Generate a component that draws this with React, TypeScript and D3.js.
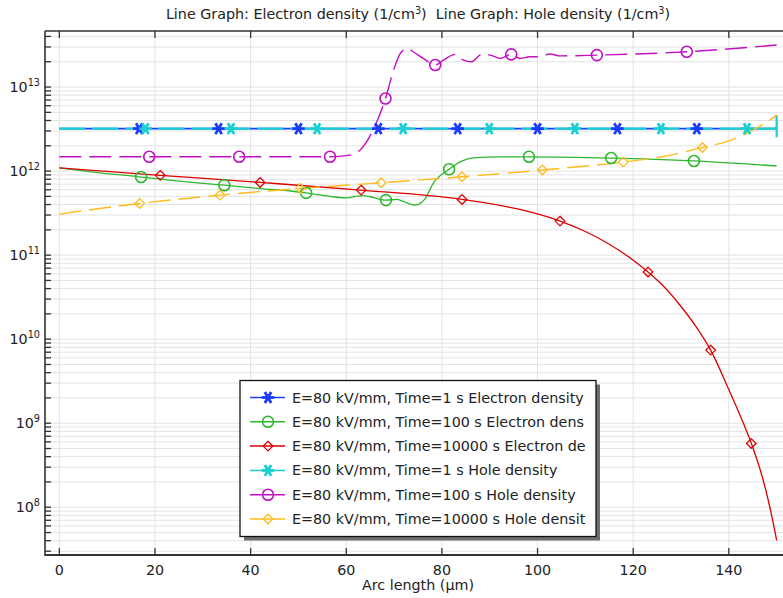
import React from "react";
import * as d3 from "d3";

type P = [number, number];

const xTicks = [0, 20, 40, 60, 80, 100, 120, 140];
const yDecades = [8, 9, 10, 11, 12, 13];

const blueLine: P[] = [[0, 3.2e12], [150, 3.2e12]];
const blueMarkers: P[] = [[16.7, 3.2e12], [33.3, 3.2e12], [50, 3.2e12], [66.7, 3.2e12], [83.3, 3.2e12], [100, 3.2e12], [116.7, 3.2e12], [133.3, 3.2e12]];

const greenLine: P[] = [[0, 1.09e12], [8, 9.6e11], [17.1, 8.5e11], [25, 7.6e11], [34.5, 6.8e11], [42, 6.2e11], [48.3, 5.8e11], [51.6, 5.5e11], [54.5, 5.2e11], [57.3, 4.95e11], [60.2, 4.8e11], [62.3, 5.05e11], [63.5, 5.1e11], [65, 4.95e11], [68.3, 4.52e11], [70.6, 4.6e11], [71.9, 4.35e11], [74.4, 3.95e11], [76.5, 4.7e11], [78.2, 7.2e11], [81.5, 1.05e12], [83.8, 1.29e12], [86.5, 1.44e12], [92.2, 1.48e12], [98.2, 1.48e12], [115.4, 1.43e12], [132.7, 1.32e12], [150, 1.15e12]];
const greenMarkers: P[] = [[17.1, 8.5e11], [34.5, 6.8e11], [51.6, 5.5e11], [68.3, 4.52e11], [81.5, 1.05e12], [98.2, 1.48e12], [115.4, 1.43e12], [132.7, 1.32e12]];

const redLine: P[] = [[0, 1.09e12], [21.1, 8.9e11], [42, 7.33e11], [63.1, 5.94e11], [84.2, 4.6e11], [94, 3.72e11], [100, 3.09e11], [105, 2.51e11], [110, 1.91e11], [115, 1.35e11], [120, 8.71e10], [123.1, 6.31e10], [126, 4.47e10], [130, 2.45e10], [133, 1.45e10], [136.2, 7.41e9], [140, 2.51e9], [142, 1.38e9], [144.7, 5.75e8], [147, 2.29e8], [148.5, 1.05e8], [150, 4.05e7]];
const redMarkers: P[] = [[21.1, 8.9e11], [42, 7.33e11], [63.1, 5.94e11], [84.2, 4.6e11], [104.7, 2.54e11], [123.1, 6.31e10], [136.2, 7.41e9], [144.7, 5.75e8]];

const cyanLine: P[] = [[0, 3.2e12], [149.9, 3.2e12], [150, 4.6e12], [150, 2.5e12]];
const cyanMarkers: P[] = [[18, 3.2e12], [35.9, 3.2e12], [53.9, 3.2e12], [71.9, 3.2e12], [89.9, 3.2e12], [107.8, 3.2e12], [125.8, 3.2e12], [143.8, 3.2e12]];

const magentaLine: P[] = [[0, 1.48e12], [18.8, 1.48e12], [37.6, 1.48e12], [56.6, 1.48e12], [60.8, 1.55e12], [62.9, 1.78e12], [65.6, 3.08e12], [68.2, 7.3e12], [69.9, 1.59e13], [71.3, 2.51e13], [72.7, 2.88e13], [74, 2.63e13], [76.1, 2.19e13], [78.6, 1.83e13], [80.3, 2.09e13], [82.8, 2.45e13], [84.5, 2.09e13], [86.2, 2.0e13], [88.3, 2.45e13], [90.1, 2.4e13], [92.2, 2.19e13], [94.5, 2.45e13], [96.3, 2.19e13], [98.4, 2.29e13], [100.5, 2.29e13], [102.6, 2.47e13], [104.7, 2.35e13], [112.4, 2.4e13], [131.2, 2.63e13], [150, 3.16e13]];
const magentaMarkers: P[] = [[18.8, 1.48e12], [37.6, 1.48e12], [56.6, 1.48e12], [68.2, 7.3e12], [78.6, 1.83e13], [94.5, 2.45e13], [112.4, 2.4e13], [131.2, 2.63e13]];

const yellowLine: P[] = [[0, 3.08e11], [16.8, 4.12e11], [33.6, 5.18e11], [50.4, 6.22e11], [67.3, 7.26e11], [84.2, 8.55e11], [101, 1.03e12], [117.9, 1.28e12], [126, 1.48e12], [134.5, 1.91e12], [140, 2.29e12], [144.4, 2.94e12], [148.6, 4.05e12], [150, 4.64e12]];
const yellowMarkers: P[] = [[16.8, 4.12e11], [33.6, 5.18e11], [50.4, 6.22e11], [67.3, 7.26e11], [84.2, 8.55e11], [101, 1.03e12], [117.9, 1.28e12], [134.5, 1.91e12]];

const legendLabels = [
  "E=80 kV/mm, Time=1 s Electron density",
  "E=80 kV/mm, Time=100 s Electron dens",
  "E=80 kV/mm, Time=10000 s Electron de",
  "E=80 kV/mm, Time=1 s Hole density",
  "E=80 kV/mm, Time=100 s Hole density",
  "E=80 kV/mm, Time=10000 s Hole densit",
];

type Shape = "star" | "circle" | "diamond";
interface Series { line: P[]; markers: P[]; color: string; shape: Shape; dash?: string; width: number; curve: d3.CurveFactory }

const series: Series[] = [
  { line: blueLine, markers: blueMarkers, color: "#1a3cff", shape: "star", width: 1.6, curve: d3.curveLinear },
  { line: greenLine, markers: greenMarkers, color: "#2eb82e", shape: "circle", width: 1.3, curve: d3.curveMonotoneX },
  { line: redLine, markers: redMarkers, color: "#dd0000", shape: "diamond", width: 1.3, curve: d3.curveMonotoneX },
  { line: cyanLine, markers: cyanMarkers, color: "#19cfd2", shape: "star", width: 2.2, dash: "26,7", curve: d3.curveLinear },
  { line: magentaLine, markers: magentaMarkers, color: "#c010c0", shape: "circle", width: 1.4, dash: "22,8", curve: d3.curveMonotoneX },
  { line: yellowLine, markers: yellowMarkers, color: "#ffbb1a", shape: "diamond", width: 1.4, dash: "22,8", curve: d3.curveMonotoneX },
];

const W = 783, H = 598;
const L = 45, R = 791, T = 31, B = 555;
const FONT = "DejaVu Sans, Verdana, sans-serif";
const FS = 14.3;

function Marker({ shape, x, y, color }: { shape: Shape; x: number; y: number; color: string }) {
  if (shape === "circle") return <circle cx={x} cy={y} r={5.5} fill="none" stroke={color} strokeWidth={1.6} />;
  if (shape === "diamond") {
    const s = 4.8;
    return <path d={`M${x},${y - s}L${x + s},${y}L${x},${y + s}L${x - s},${y}Z`} fill="none" stroke={color} strokeWidth={1.3} />;
  }
  const r = 6.3;
  const a = Math.PI / 3;
  return (
    <g stroke={color} strokeWidth={2.8}>
      <line x1={x - r} y1={y} x2={x + r} y2={y} />
      <line x1={x - r * Math.cos(a)} y1={y - r * Math.sin(a)} x2={x + r * Math.cos(a)} y2={y + r * Math.sin(a)} />
      <line x1={x + r * Math.cos(a)} y1={y - r * Math.sin(a)} x2={x - r * Math.cos(a)} y2={y + r * Math.sin(a)} />
    </g>
  );
}

export default function App() {
  const x = d3.scaleLinear().domain([-3, 153]).range([L, R]);
  const y = d3.scaleLog().domain([Math.pow(10, 7.432), Math.pow(10, 13.667)]).range([B, T]);

  const minor: number[] = [];
  for (let e = 7; e <= 13; e++) for (let m = 1; m <= 9; m++) {
    const v = m * Math.pow(10, e);
    const py = y(v);
    if (py >= T && py <= B) minor.push(v);
  }

  const lineGen = (s: Series) =>
    d3.line<P>().x(d => x(d[0])).y(d => y(d[1])).curve(s.curve)(s.line) || "";

  const legX = 240, legY = 380.5, legW = 356, legH = 156;
  const rowY = (i: number) => 397.5 + i * 24.3;

  return (
    <svg width={W} height={H} style={{ position: "absolute", left: 0, top: 0, background: "#fff" }} fontFamily={FONT}>
      <defs>
        <clipPath id="plot"><rect x={L} y={T} width={R - L} height={B - T} /></clipPath>
      </defs>
      <rect x={0} y={0} width={W} height={H} fill="#fff" />
      {/* title */}
      <text x={418} y={19} textAnchor="middle" fontSize={FS} fill="#222">
        Line Graph: Electron density (1/cm<tspan dy={-5} fontSize={9.7}>3</tspan><tspan dy={5}>{")\u00a0\u00a0Line Graph: Hole density (1/cm"}</tspan><tspan dy={-5} fontSize={9.7}>3</tspan><tspan dy={5}>)</tspan>
      </text>
      {/* grid */}
      <g stroke="#e3e3e3" strokeWidth={1}>
        {minor.map((v, i) => <line key={"h" + i} x1={L} x2={R} y1={y(v)} y2={y(v)} />)}
        {xTicks.map(t => <line key={"v" + t} x1={x(t)} x2={x(t)} y1={T} y2={B} />)}
      </g>
      {/* series lines */}
      <g clipPath="url(#plot)" fill="none">
        {series.map((s, i) => (
          <path key={i} d={lineGen(s)} stroke={s.color} strokeWidth={s.width} strokeDasharray={s.dash} />
        ))}
        {series.map((s, i) => (
          <g key={"m" + i}>
            {s.markers.map((m, j) => <Marker key={j} shape={s.shape} x={x(m[0])} y={y(m[1])} color={s.color} />)}
          </g>
        ))}
      </g>
      {/* axes */}
      <g stroke="#333" fill="none">
        <line x1={L} x2={L} y1={T} y2={B + 1} strokeWidth={1.6} />
        <line x1={L} x2={W} y1={B} y2={B} strokeWidth={2} />
        <line x1={L} x2={W} y1={T} y2={T} strokeWidth={1.6} />
        {minor.map((v, i) => <line key={"t" + i} x1={L} x2={L + 6} y1={y(v)} y2={y(v)} strokeWidth={1.3} />)}
        {xTicks.map(t => <line key={"bt" + t} x1={x(t)} x2={x(t)} y1={B} y2={B - 7} strokeWidth={1.3} />)}
        {xTicks.map(t => <line key={"tt" + t} x1={x(t)} x2={x(t)} y1={T} y2={T + 7} strokeWidth={1.3} />)}
      </g>
      {/* tick labels */}
      <g fontSize={FS} fill="#222">
        {xTicks.map(t => <text key={t} x={x(t)} y={575} textAnchor="middle">{t}</text>)}
        {yDecades.map(e => (
          <text key={e} x={40} y={y(Math.pow(10, e)) + 5} textAnchor="end">10<tspan dy={-6} fontSize={9.7}>{e}</tspan></text>
        ))}
        <text x={418} y={590} textAnchor="middle">Arc length (µm)</text>
      </g>
      {/* legend */}
      <rect x={legX + 4} y={legY + 4} width={legW} height={legH} fill="#6e6e6e" />
      <rect x={legX} y={legY} width={legW} height={legH} fill="#fff" stroke="#111" strokeWidth={1.3} />
      {series.map((s, i) => (
        <g key={"l" + i}>
          <line x1={250} x2={285} y1={rowY(i)} y2={rowY(i)} stroke={s.color} strokeWidth={1.5} />
          <Marker shape={s.shape} x={268} y={rowY(i)} color={s.color} />
          <text x={292} y={rowY(i) + 5} fontSize={FS} fill="#222">{legendLabels[i]}</text>
        </g>
      ))}
    </svg>
  );
}
